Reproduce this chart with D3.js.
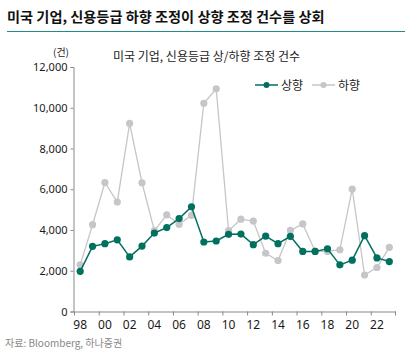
<!DOCTYPE html>
<html><head><meta charset="utf-8">
<script src="https://cdn.jsdelivr.net/npm/d3@7"></script>
<style>body{margin:0;background:#fff;}svg{display:block;font-family:"Noto Sans CJK KR","Noto Sans",sans-serif;}</style>
</head><body>
<svg id="c" width="405" height="357"></svg>
<script>
const years = ["1998","1999","2000","2001","2002","2003","2004","2005","2006","2007","2008","2009","2010","2011","2012","2013","2014","2015","2016","2017","2018","2019","2020","2021","2022","2023"];
const upgrades = [1970,3200,3330,3520,2680,3210,3850,4120,4560,5140,3410,3460,3790,3800,3280,3700,3330,3690,2950,2950,3080,2290,2520,3720,2630,2450];
const downgrades = [2290,4260,6330,5370,9230,6320,3970,4740,4280,4720,10220,10930,3970,4530,4440,2860,2500,3980,4300,2960,2950,3030,6010,1790,2160,3150];
const yTicks = [0,2000,4000,6000,8000,10000,12000];
const xLabels = ["98","00","02","04","06","08","10","12","14","16","18","20","22"];
const seriesNames = ["상향","하향"];

const svg = d3.select("#c");
const teal = "#00705f", gray = "#c6c5ca";

// title
svg.append("text").attr("x",7).attr("y",22).attr("font-size",14.2).attr("font-weight","bold").attr("fill","#111")
  .text("미국 기업, 신용등급 하향 조정이 상향 조정 건수를 상회");
svg.append("line").attr("x1",7).attr("x2",405).attr("y1",31.5).attr("y2",31.5).attr("stroke","#1f8b8c").attr("stroke-width",1.2);

const x = d3.scaleBand().domain(years).range([74,395.5]).padding(0);
const y = d3.scaleLinear().domain([0,12000]).range([311.5,67]);

// inner title
svg.append("text").attr("x",113).attr("y",61).attr("font-size",12).attr("fill","#222")
  .text("미국 기업, 신용등급 상/하향 조정 건수");
svg.append("text").attr("x",53).attr("y",56).attr("font-size",10).attr("fill","#222").text("(건)");

// y axis
const yAxis = svg.append("g").attr("transform","translate(73.5,0)")
  .call(d3.axisLeft(y).tickValues(yTicks).tickSize(3).tickFormat(d3.format(",")));
yAxis.select(".domain").attr("stroke","#888");
yAxis.selectAll(".tick line").attr("stroke","#888");
yAxis.selectAll("text").attr("font-size",11).attr("fill","#1a1a1a").attr("x",-6).attr("font-family","'Noto Sans',sans-serif");

// x axis
const xAxis = svg.append("g").attr("transform","translate(0,311.5)")
  .call(d3.axisBottom(x).tickValues([]).tickSizeOuter(0));
xAxis.select(".domain").attr("stroke","#888");
const tickYears = years.filter((d,i)=>i%2===0);
xAxis.selectAll(".xt").data(tickYears).enter().append("line")
  .attr("x1",d=>x(d)+0.5).attr("x2",d=>x(d)+0.5).attr("y1",0).attr("y2",4).attr("stroke","#888");
xAxis.append("line").attr("x1",395.5).attr("x2",395.5).attr("y1",0).attr("y2",4).attr("stroke","#888");
xAxis.selectAll(".xl").data(tickYears).enter().append("text")
  .attr("x",(d)=>x(d)+x.bandwidth()/2).attr("y",17).attr("text-anchor","middle")
  .attr("font-size",12).attr("fill","#1a1a1a").attr("font-family","'Noto Sans',sans-serif")
  .text((d,i)=>xLabels[i]);

const cx = d=>x(d)+x.bandwidth()/2;
const line = d3.line().x((d,i)=>cx(years[i])).y(d=>y(d));

// downgrades
svg.append("path").datum(downgrades).attr("d",line).attr("fill","none").attr("stroke",gray).attr("stroke-width",1.3);
svg.selectAll(".dp").data(downgrades).enter().append("circle")
  .attr("cx",(d,i)=>cx(years[i])).attr("cy",d=>y(d)).attr("r",3.6).attr("fill",gray);
// upgrades
svg.append("path").datum(upgrades).attr("d",line).attr("fill","none").attr("stroke",teal).attr("stroke-width",1.5);
svg.selectAll(".up").data(upgrades).enter().append("circle")
  .attr("cx",(d,i)=>cx(years[i])).attr("cy",d=>y(d)).attr("r",3.6).attr("fill",teal);

// legend
const leg = [{n:seriesNames[0],c:teal,x:255},{n:seriesNames[1],c:gray,x:312}];
leg.forEach(l=>{
  svg.append("line").attr("x1",l.x).attr("x2",l.x+23).attr("y1",85).attr("y2",85).attr("stroke",l.c).attr("stroke-width",1.5);
  svg.append("circle").attr("cx",l.x+11.5).attr("cy",85).attr("r",3).attr("fill",l.c);
  svg.append("text").attr("x",l.x+26).attr("y",89.5).attr("font-size",12).attr("fill","#222").text(l.n);
});

// source
svg.append("text").attr("x",5).attr("y",347).attr("font-size",10).attr("fill","#888").text("자료: Bloomberg, 하나증권");
</script>
</body></html>
